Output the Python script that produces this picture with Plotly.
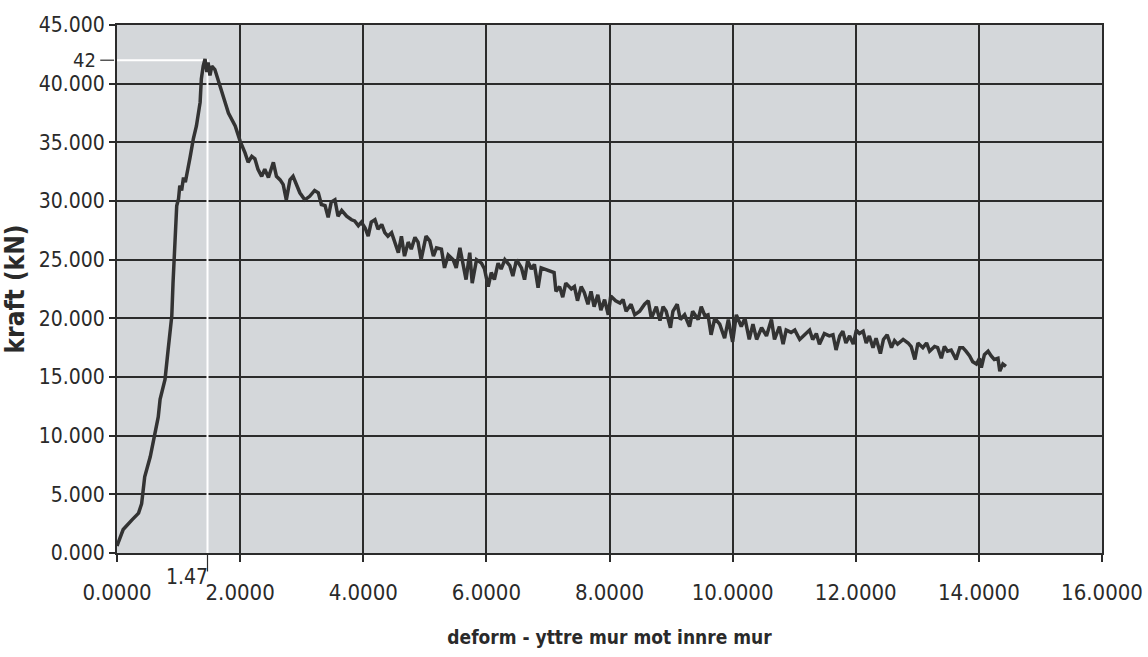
import plotly.graph_objects as go

# ---- data ----
deform = [
    0.00, 0.10, 0.24, 0.35, 0.40, 0.45, 0.54, 0.62, 0.67, 0.70, 0.78, 0.83, 0.89, 0.91, 0.94, 0.97,
    1.00, 1.02, 1.05, 1.08, 1.11, 1.14, 1.19, 1.24, 1.29, 1.35, 1.37, 1.40, 1.43, 1.46, 1.48, 1.51,
    1.54, 1.59, 1.62, 1.65, 1.73, 1.81, 1.92, 2.00,
    2.08, 2.13, 2.19, 2.24, 2.29, 2.35, 2.40, 2.46, 2.54, 2.59, 2.65, 2.70, 2.75, 2.81, 2.86, 2.92,
    2.97, 3.05, 3.13, 3.21, 3.27, 3.32, 3.38, 3.43, 3.48, 3.54, 3.59, 3.65, 3.73, 3.81, 3.86, 3.92,
    3.97, 4.03, 4.08, 4.13, 4.19, 4.24, 4.30, 4.35, 4.40, 4.46, 4.51, 4.57, 4.62, 4.67, 4.73, 4.78,
    4.84, 4.89, 4.94, 5.02,
    5.08, 5.14, 5.19, 5.27, 5.32, 5.38, 5.46, 5.51, 5.57, 5.62, 5.67, 5.73, 5.77, 5.84, 5.92, 5.97,
    6.03, 6.08, 6.13, 6.19, 6.24, 6.30, 6.38, 6.43, 6.49, 6.57, 6.62, 6.67, 6.73, 6.78, 6.84, 6.89,
    6.94, 7.02, 7.10, 7.13, 7.19, 7.24, 7.29, 7.38, 7.43, 7.48, 7.54, 7.59, 7.65, 7.70, 7.75, 7.81,
    7.86, 7.92, 7.98, 8.02, 8.10,
    8.17, 8.22, 8.27, 8.35, 8.41, 8.49, 8.57, 8.63, 8.68, 8.76, 8.82, 8.87, 8.92, 8.99, 9.03, 9.10,
    9.15, 9.22, 9.30, 9.35, 9.44, 9.49, 9.55, 9.60, 9.65, 9.71, 9.79, 9.87, 9.93, 10.00, 10.06, 10.14,
    10.20, 10.27, 10.33, 10.39, 10.47, 10.55, 10.63, 10.68, 10.76, 10.82, 10.87, 10.95, 11.01, 11.09, 11.17,
    11.25, 11.30, 11.36, 11.41, 11.49, 11.57, 11.63, 11.68, 11.74, 11.79, 11.84, 11.90, 11.96, 12.01, 12.06, 12.12,
    12.17, 12.22, 12.28, 12.33, 12.40, 12.45, 12.51, 12.58, 12.63, 12.68, 12.77, 12.85, 12.90, 12.96, 13.01, 13.09,
    13.15, 13.20, 13.28, 13.33, 13.39, 13.44, 13.49, 13.55, 13.63, 13.69, 13.74, 13.79, 13.85, 13.90, 13.96, 14.01,
    14.04, 14.09, 14.15, 14.20, 14.25, 14.31, 14.34, 14.39, 14.44,
]
kraft = [
    0.6, 2.0, 2.8, 3.4, 4.2, 6.5, 8.2, 10.2, 11.6, 13.1, 14.8, 17.3, 20.2, 23.0, 26.2, 29.6,
    30.2, 31.3, 30.9, 32.0, 31.6, 32.6, 33.8, 35.3, 36.4, 38.4, 40.4, 41.5, 42.1, 41.0, 41.8, 40.7,
    41.5, 41.2, 40.7, 40.4, 39.0, 37.5, 36.4, 35.1,
    34.1, 33.3, 33.8, 33.6, 32.7, 32.1, 32.7, 32.0, 33.3, 32.1, 31.8, 31.4, 30.1, 31.8, 32.1, 31.3,
    30.7, 30.1, 30.4, 30.9, 30.7, 29.7, 29.6, 28.6, 29.9, 30.1, 28.7, 29.2, 28.7, 28.4, 28.3, 27.9,
    28.2, 27.7, 27.0, 28.2, 28.4, 27.6, 28.0, 27.3, 27.0, 27.3, 26.5, 25.6, 27.0, 25.3, 26.5, 25.9,
    26.9, 26.5, 25.0, 27.0,
    26.6, 25.3, 26.0, 25.9, 24.3, 25.4, 25.0, 24.3, 26.0, 24.7, 23.3, 25.6, 23.0, 25.0, 24.7, 24.2,
    22.7, 23.9, 23.3, 24.7, 24.2, 25.0, 24.5, 23.6, 25.0, 24.3, 23.3, 24.9, 24.2, 24.6, 22.6, 24.3,
    24.2, 24.0, 23.9, 22.3, 22.7, 21.8, 23.0, 22.5, 22.7, 21.5, 22.7, 22.2, 21.2, 22.3, 21.0, 22.0,
    20.7, 21.6, 20.3, 21.9, 21.5,
    21.3, 21.6, 20.6, 21.2, 20.3, 20.6, 21.2, 21.5, 20.0, 21.0, 19.8, 21.0, 20.6, 19.2, 20.6, 21.2,
    19.9, 20.3, 19.3, 20.6, 19.9, 21.0, 20.2, 20.3, 18.6, 20.0, 19.5, 18.3, 19.9, 18.0, 20.3, 19.3,
    20.0, 18.2, 19.5, 18.2, 19.2, 18.5, 19.9, 18.2, 19.3, 17.8, 19.0, 18.8, 19.0, 18.2, 18.6,
    19.0, 18.2, 18.7, 17.8, 18.7, 18.5, 18.6, 17.3, 18.5, 18.9, 17.9, 18.5, 17.8, 19.0, 18.7, 18.9,
    17.9, 18.5, 17.5, 18.3, 17.0, 18.2, 18.6, 17.5, 18.1, 17.8, 18.2, 17.9, 17.6, 16.5, 17.9, 17.5,
    17.9, 17.2, 17.6, 17.5, 16.6, 17.6, 17.2, 17.3, 16.5, 17.5, 17.5, 17.2, 16.8, 16.3, 16.1, 16.6,
    15.8, 16.9, 17.2, 16.8, 16.5, 16.6, 15.5, 16.1, 15.9,
]
peak_x = 1.47
peak_y = 42
x_ticks = [0, 2, 4, 6, 8, 10, 12, 14, 16]
x_ticktext = ["0.0000", "2.0000", "4.0000", "6.0000", "8.0000", "10.0000", "12.0000", "14.0000", "16.0000"]
y_ticks = [0, 5, 10, 15, 20, 25, 30, 35, 40, 45]
y_ticktext = ["0.000", "5.000", "10.000", "15.000", "20.000", "25.000", "30.000", "35.000", "40.000", "45.000"]

FONT = "DejaVu Sans Condensed, Roboto Condensed, Liberation Sans Narrow, Arial Narrow, Liberation Sans, sans-serif"
DARK = "#2b2b2b"
TXT = "#2a2a2a"

fig = go.Figure()

# white reference lines at the peak
fig.add_trace(go.Scatter(x=[0, peak_x, peak_x], y=[peak_y, peak_y, 0], mode="lines",
                         line=dict(color="white", width=2), hoverinfo="skip", showlegend=False))
# measured curve
fig.add_trace(go.Scatter(x=deform, y=kraft, mode="lines",
                         line=dict(color="#333333", width=3.5), showlegend=False))

fig.update_layout(
    width=1148, height=657,
    margin=dict(l=117, r=46, t=25, b=104),
    paper_bgcolor="white", plot_bgcolor="#d4d7da",
    font=dict(family=FONT, color=TXT, size=22),
    xaxis=dict(range=[0, 16], tickvals=x_ticks, ticktext=x_ticktext, automargin=False,
               showgrid=True, gridcolor=DARK, gridwidth=1.5,
               showline=True, linecolor=DARK, linewidth=2, mirror=True,
               ticks="outside", ticklen=7, tickcolor=DARK, tickwidth=1.5,
               ticklabeloverflow="allow", ticklabelstandoff=12,
               tickfont=dict(family=FONT, size=22, color=TXT),
               title=dict(text="<b>deform - yttre mur mot innre mur</b>",
                          font=dict(family=FONT, size=19, color=TXT), standoff=26),
               zeroline=False),
    yaxis=dict(range=[0, 45], tickvals=y_ticks, ticktext=y_ticktext, automargin=False,
               showgrid=True, gridcolor=DARK, gridwidth=1.5,
               showline=True, linecolor=DARK, linewidth=2, mirror=True,
               ticks="outside", ticklen=6, tickcolor=DARK, tickwidth=1.5,
               ticklabeloverflow="allow",
               tickfont=dict(family=FONT, size=21, color=TXT),
               title=dict(text="<b>kraft (kN)</b>",
                          font=dict(family=FONT, size=26, color=TXT), standoff=8),
               zeroline=False),
)

# "42" marker on the y axis
fig.add_shape(type="line", xref="paper", yref="y", x0=-0.017, x1=-0.003, y0=peak_y, y1=peak_y,
              line=dict(color=DARK, width=1.2))
fig.add_annotation(xref="paper", yref="y", x=-0.019, y=peak_y, text=str(peak_y), showarrow=False,
                   xanchor="right", yanchor="middle", font=dict(family=FONT, size=20, color=TXT))
# "1.47" marker on the x axis
fig.add_shape(type="line", xref="x", yref="paper", x0=peak_x, x1=peak_x, y0=0, y1=-0.035,
              line=dict(color=DARK, width=1.2))
fig.add_annotation(xref="x", yref="paper", x=peak_x, y=-0.018, xshift=2, text=str(peak_x), showarrow=False,
                   xanchor="right", yanchor="top", font=dict(family=FONT, size=21, color=TXT))

fig.write_html("out.html")
